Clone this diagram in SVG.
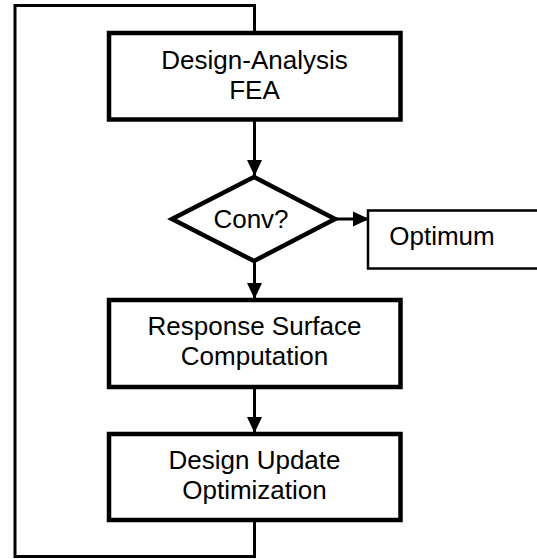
<svg xmlns="http://www.w3.org/2000/svg" width="537" height="559" viewBox="0 0 537 559">
<style>
.box{fill:#fff;stroke:#000;stroke-width:4.5;stroke-linejoin:miter}
.thin{fill:#fff;stroke:#000;stroke-width:2.5}
.t{font-family:"Liberation Sans",Arial,sans-serif;font-size:26px;fill:#000;text-anchor:middle}
.c{fill:none;stroke:#000;stroke-width:3}
</style>
<defs>
<marker id="ah" markerUnits="userSpaceOnUse" viewBox="0 0 16 16" markerWidth="16" markerHeight="16" refX="16" refY="8" orient="auto">
<path d="M0,0.5 L16,8 L0,15.5 z" fill="#000"/>
</marker>
</defs>
<rect width="537" height="559" fill="#fff"/>
<g id="connectors">
<path class="c" d="M254.5,520 L254.5,556.5 L15,556.5 L15,5.5 L254.5,5.5 L254.5,33"/>
<line class="c" x1="254.5" y1="119" x2="254.5" y2="176" marker-end="url(#ah)"/>
<line class="c" x1="254.5" y1="261" x2="254.5" y2="299" marker-end="url(#ah)"/>
<line class="c" x1="254.5" y1="387" x2="254.5" y2="433" marker-end="url(#ah)"/>
<line class="c" x1="336" y1="219" x2="369" y2="219" marker-end="url(#ah)"/>
</g>
<g id="fea">
<rect class="box" x="109" y="33" width="291.5" height="86.5"/>
<text class="t" x="254.5" y="69">Design-Analysis</text>
<text class="t" x="254.5" y="99">FEA</text>
</g>
<g id="conv">
<polygon class="box" points="254,177 335,219 254,261 172,219"/>
<text class="t" x="251" y="228">Conv?</text>
</g>
<g id="optimum">
<rect class="thin" x="368" y="210.5" width="200" height="58"/>
<text class="t" x="442" y="245">Optimum</text>
</g>
<g id="response">
<rect class="box" x="109" y="300" width="291.5" height="87"/>
<text class="t" x="254.5" y="335">Response Surface</text>
<text class="t" x="254.5" y="365">Computation</text>
</g>
<g id="update">
<rect class="box" x="109" y="434" width="291.5" height="86"/>
<text class="t" x="254.5" y="469">Design Update</text>
<text class="t" x="254.5" y="499">Optimization</text>
</g>
</svg>
